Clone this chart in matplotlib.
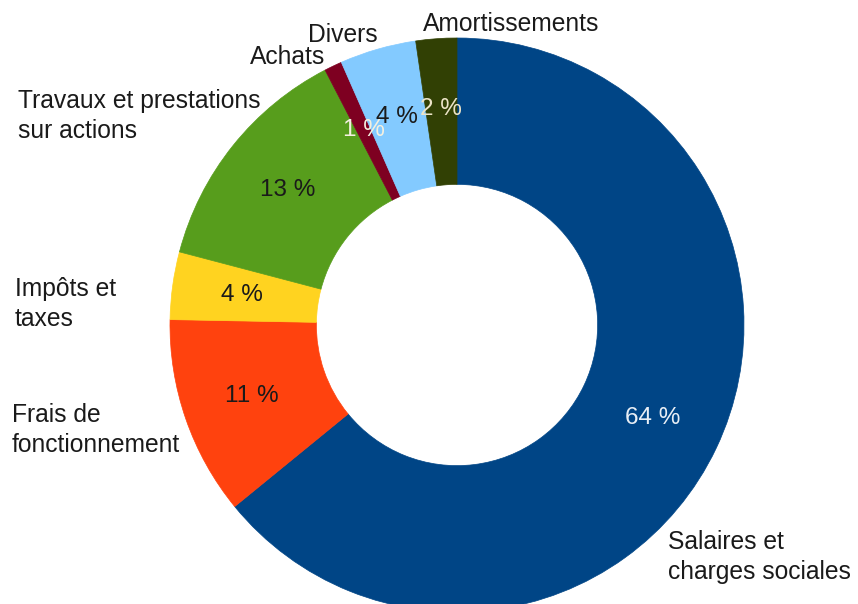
import numpy as np
import matplotlib.pyplot as plt

plt.rcParams['font.family'] = ['Liberation Sans', 'DejaVu Sans']

# data, clockwise from 12 o'clock
categories = ["Salaires et\ncharges sociales", "Frais de\nfonctionnement", "Impôts et\ntaxes",
              "Travaux et prestations\nsur actions", "Achats", "Divers", "Amortissements"]
shares = [64.1, 11.2, 3.8, 13.3, 1.0, 4.3, 2.3]
colors = ["#004586", "#ff420e", "#ffd320", "#579d1c", "#7e0021", "#83caff", "#314004"]
pct_colors = ["#e8eef5", "#1a1a1a", "#1a1a1a", "#1a1a1a", "#f4f0e0", "#1a1a1a", "#ece4c8"]

# label anchors in pixel space (left x, centre y from top)
label_pos = [(668, 557), (12, 430), (15, 304), (18, 116), (250, 57), (308, 35), (423, 24)]

W, H = 858, 604
cx, cy, R = 457, 325, 287

fig = plt.figure(figsize=(W / 100, H / 100), dpi=100)
ax = fig.add_axes([0, 0, 1, 1])

wedges, texts = ax.pie(shares, colors=colors, startangle=90, counterclock=False,
                       center=(cx, H - cy), radius=R,
                       wedgeprops=dict(width=R * 0.51, linewidth=0.5))
for w, c in zip(wedges, colors):
    w.set_edgecolor(c)

ax.set_xlim(0, W)
ax.set_ylim(0, H)
ax.set_aspect('equal')
ax.axis('off')

# percentage labels on the ring
total = sum(shares)
start = 0.0
for val, col in zip(shares, pct_colors):
    mid = (start + val / 2) / total * 2 * np.pi
    start += val
    r = R * 0.755
    x = cx + r * np.sin(mid)
    y = (H - cy) + r * np.cos(mid)
    ax.text(x, y, f"{round(val)} %", ha='center', va='center', fontsize=17.5, color=col)

for name, (lx, ly) in zip(categories, label_pos):
    ax.text(lx, H - ly, name, ha='left', va='center', fontsize=17.7, color='#1a1a1a',
            linespacing=1.3)

fig.savefig('out.png', dpi=100)
